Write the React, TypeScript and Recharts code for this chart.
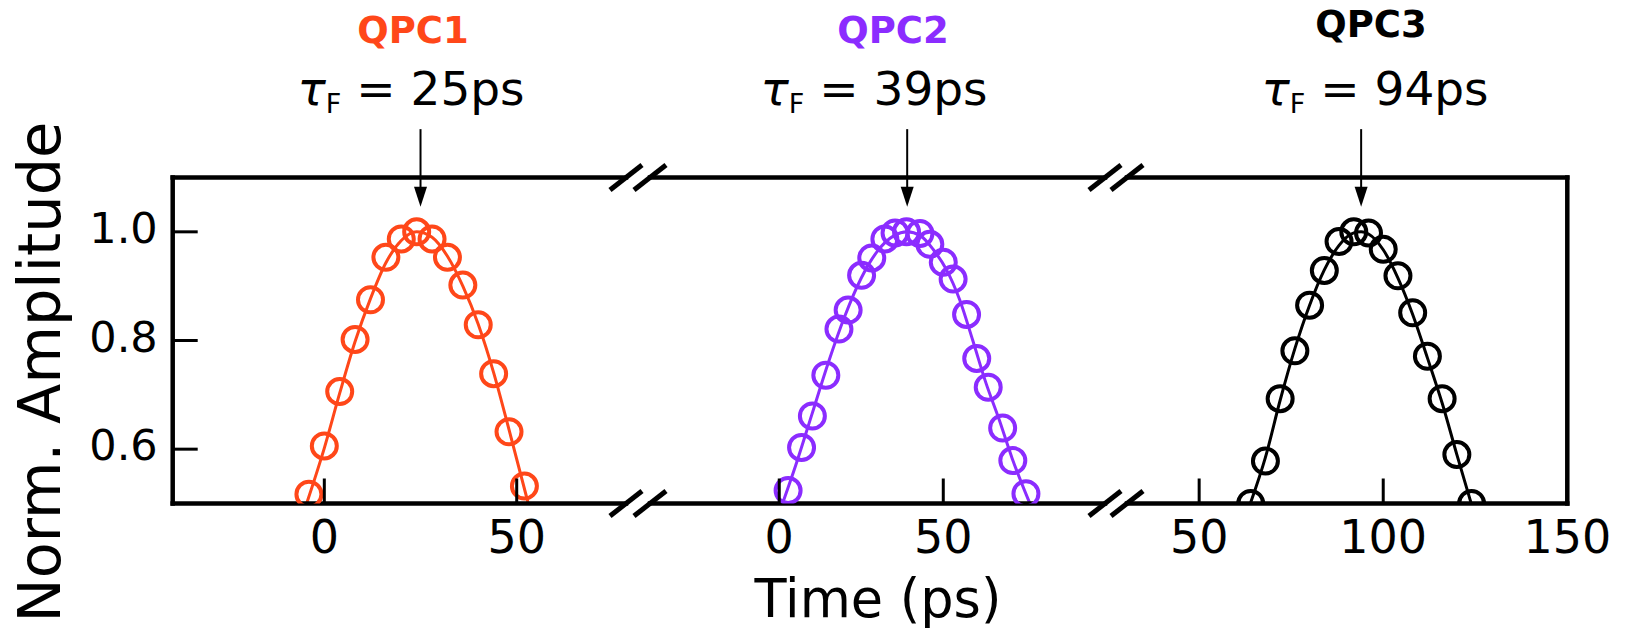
import React from 'react';
import { ComposedChart, Line, Scatter, XAxis, YAxis, ReferenceLine } from 'recharts';

// ---------------- data ----------------
const qpc1Time = [-4, 0, 4, 8, 12, 16, 20, 24, 28, 32, 36, 40, 44, 48, 52];
const qpc1Amp = [0.517, 0.606, 0.706, 0.802, 0.875, 0.953, 0.987, 1.0, 0.987, 0.953, 0.902, 0.829, 0.739, 0.632, 0.532];
const qpc1FitTime = [-4.6, 0, 4, 8, 12, 16, 20, 24, 28, 32, 36, 40, 44, 48, 53];
const qpc1FitAmp = [0.5, 0.602, 0.703, 0.798, 0.877, 0.943, 0.984, 1.0, 0.99, 0.955, 0.9, 0.83, 0.741, 0.636, 0.5];

const qpc2Time = [2.7, 6.8, 10.1, 14.2, 18.2, 21.0, 25.1, 28.2, 32.2, 35.3, 38.8, 42.9, 45.9, 50.0, 53.0, 57.1, 60.2, 63.7, 68.1, 71.2, 75.2];
const qpc2Amp = [0.524, 0.603, 0.661, 0.736, 0.821, 0.856, 0.92, 0.952, 0.987, 0.998, 1.0, 0.997, 0.977, 0.944, 0.913, 0.848, 0.767, 0.714, 0.639, 0.579, 0.518];
const qpc2FitTime = [1.0, 5, 10, 15, 20, 25, 30, 35, 39, 43, 47, 51, 55, 59, 63, 67, 71, 76.4];
const qpc2FitAmp = [0.5, 0.57, 0.665, 0.76, 0.845, 0.915, 0.965, 0.993, 1.0, 0.993, 0.967, 0.93, 0.875, 0.8, 0.722, 0.655, 0.583, 0.5];

const qpc3Time = [64, 68, 72, 76, 80, 84, 88, 92, 96, 100, 104, 108, 112, 116, 120, 124];
const qpc3Amp = [0.5, 0.578, 0.693, 0.781, 0.865, 0.929, 0.982, 1.0, 0.998, 0.968, 0.919, 0.851, 0.771, 0.693, 0.59, 0.5];
const qpc3FitTime = [63.9, 68, 72, 76, 80, 84, 88, 92, 94, 96, 100, 104, 108, 112, 116, 120, 123.9];
const qpc3FitAmp = [0.5, 0.585, 0.69, 0.785, 0.865, 0.93, 0.975, 0.998, 1.0, 0.996, 0.967, 0.915, 0.848, 0.768, 0.685, 0.59, 0.5];

const qpcNames = ['QPC1', 'QPC2', 'QPC3'];
const tauValues = [25, 39, 94];
const yTicks = [0.6, 0.8, 1.0];
const yDomain = [0.5, 1.1];
const panelDomains = [[-39.4, 78.4], [-39.4, 99.3], [30.4, 150]];
const panelTicks = [[0, 50], [0, 50], [50, 100, 150]];
const xLabel = 'Time (ps)';
const yLabel = 'Norm. Amplitude';

// ---------------- layout / style ----------------
const W = 1642;
const H = 636;
const PLOT_TOP = 177.5;
const PLOT_BOTTOM = 503.5;
const XAXIS_H = 60;
const YAXIS_W = 100;
const FONT = '"DejaVu Sans", sans-serif';
const colors = ['#FF4719', '#8B2CFF', '#000000'];
const panelEdges = [[172.7, 626], [650, 1105], [1127, 1567.3]];
const titleX = [413, 893, 1371];
const titleY = [43, 43, 37];
const tauX = [411, 874, 1375];

const XTick = (props: any) => {
  const { x, y, payload } = props;
  return (
    <g>
      <line x1={x} x2={x} y1={y} y2={y - 25} stroke="#000" strokeWidth={3} />
      <text x={x} y={y + 49} textAnchor="middle" fontFamily={FONT} fontSize={46} fill="#000">
        {payload.value}
      </text>
    </g>
  );
};

const YTick = (props: any) => {
  const { x, y, payload } = props;
  return (
    <g>
      <line x1={x} x2={x + 25} y1={y} y2={y} stroke="#000" strokeWidth={3} />
      <text x={x - 15} y={y + 11} textAnchor="end" fontFamily={FONT} fontSize={43} fill="#000">
        {Number(payload.value).toFixed(1)}
      </text>
    </g>
  );
};

const Arrow = (p: any) => {
  const { x1, y1, x2, y2 } = p;
  if (x1 == null) return null;
  return (
    <g>
      <line x1={x1} y1={y1} x2={x2} y2={y2 - 14} stroke="#000" strokeWidth={2} />
      <polygon points={`${x2 - 6.5},${y2 - 20} ${x2 + 6.5},${y2 - 20} ${x2},${y2}`} fill="#000" />
    </g>
  );
};

const makeCircle = (color: string) => (p: any) => (
  <circle cx={p.cx} cy={p.cy} r={12.5} fill="none" stroke={color} strokeWidth={4} />
);

const series = [
  { time: qpc1Time, amp: qpc1Amp, fitTime: qpc1FitTime, fitAmp: qpc1FitAmp },
  { time: qpc2Time, amp: qpc2Amp, fitTime: qpc2FitTime, fitAmp: qpc2FitAmp },
  { time: qpc3Time, amp: qpc3Amp, fitTime: qpc3FitTime, fitAmp: qpc3FitAmp },
];

function Panel({ i }: { i: number }) {
  const s = series[i];
  const pts = s.time.map((t, k) => ({ t, a: s.amp[k] }));
  const fit = s.fitTime.map((t, k) => ({ t, a: s.fitAmp[k] }));
  const [left, right] = panelEdges[i];
  const color = colors[i];
  const dom = panelDomains[i];
  const showY = i === 0;
  return (
    <div style={{ position: 'absolute', left: 0, top: 0 }}>
      <ComposedChart
        width={W}
        height={H}
        margin={{
          top: PLOT_TOP,
          bottom: H - PLOT_BOTTOM - XAXIS_H,
          left: showY ? left - YAXIS_W : left,
          right: W - right,
        }}
      >
        <XAxis
          type="number"
          dataKey="t"
          domain={dom}
          allowDataOverflow
          ticks={panelTicks[i]}
          interval={0}
          height={XAXIS_H}
          tickSize={0}
          tickMargin={0}
          tickLine={false}
          axisLine={{ stroke: '#000', strokeWidth: 4.5, strokeLinecap: 'square' }}
          tick={(p: any) => <XTick {...p} />}
        />
        <YAxis
          type="number"
          dataKey="a"
          domain={yDomain}
          allowDataOverflow
          ticks={yTicks}
          interval={0}
          width={YAXIS_W}
          hide={!showY}
          tickSize={0}
          tickMargin={0}
          tickLine={false}
          axisLine={{ stroke: '#000', strokeWidth: 4.5, strokeLinecap: 'square' }}
          tick={(p: any) => <YTick {...p} />}
        />
        <ReferenceLine y={yDomain[1]} stroke="#000" strokeWidth={4.5} strokeLinecap="square" />
        {i === 2 && <ReferenceLine x={dom[1]} stroke="#000" strokeWidth={4.5} strokeLinecap="square" />}
        <Line
          data={fit}
          dataKey="a"
          type="monotone"
          stroke={color}
          strokeWidth={3}
          dot={false}
          isAnimationActive={false}
        />
        <Scatter data={pts} dataKey="a" shape={makeCircle(color)} isAnimationActive={false} />
        <ReferenceLine
          segment={[{ x: tauValues[i], y: 1.189 }, { x: tauValues[i], y: 1.046 }]}
          ifOverflow="visible"
          shape={(p: any) => <Arrow {...p} />}
        />
      </ComposedChart>
    </div>
  );
}

function BreakMark({ cx, cy }: { cx: number; cy: number }) {
  return <line x1={cx - 16} y1={cy + 12.5} x2={cx + 16} y2={cy - 12.5} stroke="#000" strokeWidth={5} />;
}

export default function App() {
  const breaks = [panelEdges[0][1], panelEdges[1][0], panelEdges[1][1], panelEdges[2][0]];
  return (
    <div style={{ position: 'absolute', left: 0, top: 0, width: W, height: H, background: '#fff' }}>
      {[0, 1, 2].map((i) => (
        <Panel key={i} i={i} />
      ))}
      <svg width={W} height={H} style={{ position: 'absolute', left: 0, top: 0, pointerEvents: 'none' }}>
        {breaks.map((bx, k) => (
          <g key={k}>
            <BreakMark cx={bx} cy={PLOT_TOP} />
            <BreakMark cx={bx} cy={PLOT_BOTTOM} />
          </g>
        ))}
        {qpcNames.map((n, i) => (
          <text
            key={n}
            x={titleX[i]}
            y={titleY[i]}
            textAnchor="middle"
            fontFamily={FONT}
            fontWeight="bold"
            fontSize={37}
            fill={colors[i]}
          >
            {n}
          </text>
        ))}
        {tauValues.map((v, i) => (
          <text key={v} x={tauX[i]} y={105} textAnchor="middle" fontFamily={FONT} fontSize={47} fill="#000">
            <tspan fontStyle="italic">τ</tspan>
            <tspan fontSize={27} dy={8}>F</tspan>
            <tspan dy={-8}>{` = ${v}ps`}</tspan>
          </text>
        ))}
        <text x={878} y={617} textAnchor="middle" fontFamily={FONT} fontSize={52.5} fill="#000">
          {xLabel}
        </text>
        <text
          x={0}
          y={0}
          transform="translate(60,372) rotate(-90)"
          textAnchor="middle"
          fontFamily={FONT}
          fontSize={59}
          fill="#000"
        >
          {yLabel}
        </text>
      </svg>
    </div>
  );
}
